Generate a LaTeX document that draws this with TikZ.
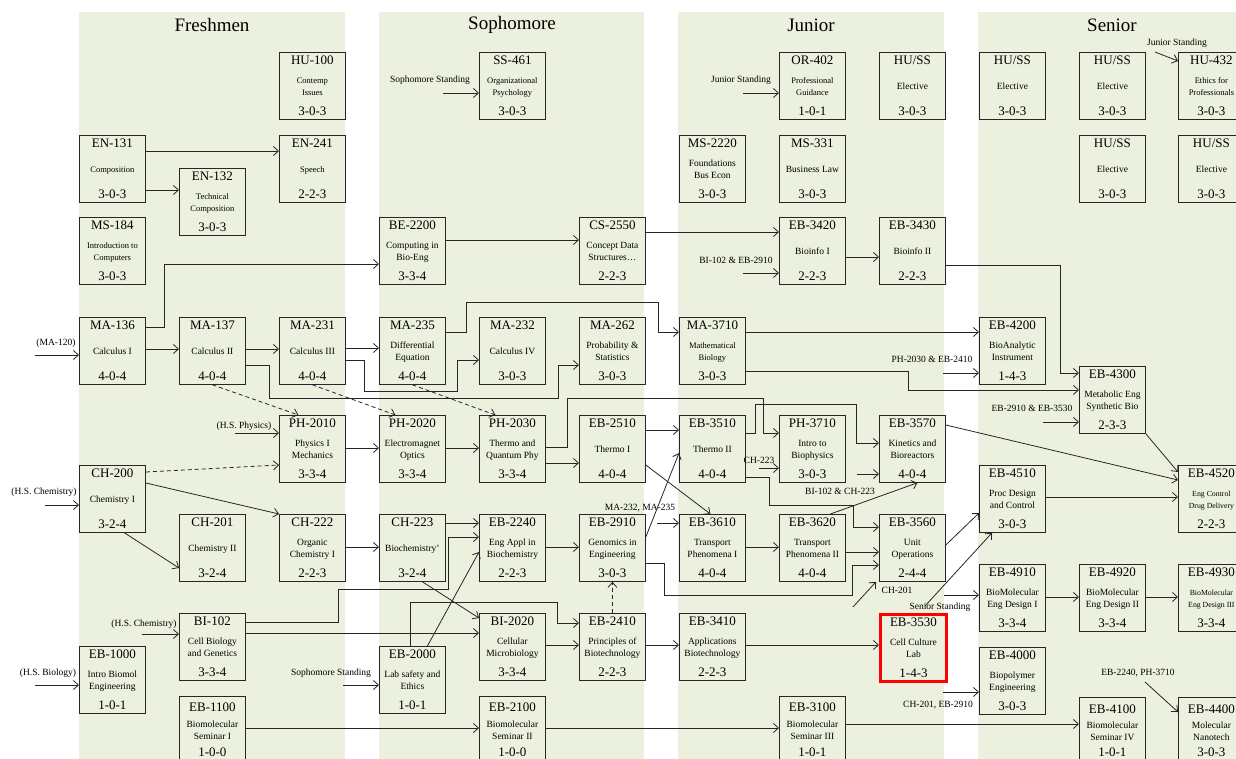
\documentclass[tikz,border=0pt]{standalone}
\usepackage{fontspec}
\setmainfont{Liberation Serif}
\usetikzlibrary{arrows.meta, positioning, calc, shadows}

\definecolor{yearbg}{HTML}{EBF1DE}
\newcommand{\sm}{\fontsize{8.5}{12}\selectfont}
\newcommand{\xsm}{\fontsize{7.8}{12.5}\selectfont}
\newcommand{\crs}[4][60pt]{\parbox[c][#1][s]{64pt}{\centering
  \fontsize{13}{14}\selectfont #2\par\vfill
  {\fontsize{9.5}{12.5}\selectfont #3\par}\vfill
  \fontsize{13}{14}\selectfont #4}}

\begin{document}
\begin{tikzpicture}[x=1pt, y=-1pt, >={Straight Barb[length=5pt,width=9pt]}, thick,
    course/.style={draw=black!85, fill=yearbg, line width=0.8pt, minimum width=66pt,
      minimum height=67pt, inner sep=0pt, anchor=north west},
    focus/.style={draw=red, line width=3pt,
      drop shadow={opacity=0.3, shadow xshift=1.5pt, shadow yshift=-1.5pt}},
    note/.style={font=\fontsize{9.5}{11}\selectfont, inner sep=0pt},
    yeartitle/.style={font=\fontsize{19}{22}\selectfont, inner sep=0pt},
    prereq/.style={->, draw=black!85},
    coreq/.style={->, draw=black!85, dash pattern=on 4pt off 3pt}]

    \useasboundingbox (0,0) rectangle (1236,759);
    \clip (0,0) rectangle (1236,759);

    % Year columns
    \fill[yearbg] (79,12) rectangle (345,770);
    \fill[yearbg] (379,12) rectangle (644,770);
    \fill[yearbg] (678,12) rectangle (944,770);
    \fill[yearbg] (978,12) rectangle (1250,770);
    \node[yeartitle] (fresh) at (212,25) {Freshmen};
    \node[yeartitle] (soph) at (512,25) {Sophomore};
    \node[yeartitle] (jun) at (811,25) {Junior};
    \node[yeartitle] (sen) at (1112,25) {Senior};

    % Freshmen courses
    \node[course] (hu100) at (279,52) {\crs{HU-100}{\sm Contemp\\Issues}{3-0-3}};
    \node[course] (en131) at (79,135) {\crs{EN-131}{\sm Composition}{3-0-3}};
    \node[course] (en132) at (179,168) {\crs{EN-132}{\sm Technical\\Composition}{3-0-3}};
    \node[course] (en241) at (279,135) {\crs{EN-241}{\sm Speech}{2-2-3}};
    \node[course] (ms184) at (79,217) {\crs{MS-184}{\sm Introduction to\\Computers}{3-0-3}};
    \node[course] (ma136) at (79,317) {\crs{MA-136}{Calculus I}{4-0-4}};
    \node[course] (ma137) at (179,317) {\crs{MA-137}{Calculus II}{4-0-4}};
    \node[course] (ma231) at (279,317) {\crs{MA-231}{Calculus III}{4-0-4}};
    \node[course] (ph2010) at (279,415) {\crs{PH-2010}{Physics I\\Mechanics}{3-3-4}};
    \node[course] (ch200) at (79,465) {\crs{CH-200}{Chemistry I}{3-2-4}};
    \node[course] (ch201) at (179,514) {\crs{CH-201}{Chemistry II}{3-2-4}};
    \node[course] (ch222) at (279,514) {\crs{CH-222}{Organic\\Chemistry I}{2-2-3}};
    \node[course] (bi102) at (179,613) {\crs{BI-102}{Cell Biology\\and Genetics}{3-3-4}};
    \node[course] (eb1000) at (79,646) {\crs{EB-1000}{Intro Biomol\\Engineering}{1-0-1}};
    \node[course] (eb1100) at (179,696) {\crs[54pt]{EB-1100}{Biomolecular\\Seminar I}{1-0-0}};

    % Sophomore courses
    \node[course] (ss461) at (479,52) {\crs{SS-461}{\sm Organizational\\Psychology}{3-0-3}};
    \node[course] (be2200) at (379,217) {\crs{BE-2200}{Computing in\\Bio-Eng}{3-3-4}};
    \node[course] (cs2550) at (579,217) {\crs{CS-2550}{Concept Data\\Structures\ldots}{2-2-3}};
    \node[course] (ma235) at (379,317) {\crs{MA-235}{Differential\\Equation}{4-0-4}};
    \node[course] (ma232) at (479,317) {\crs{MA-232}{Calculus IV}{3-0-3}};
    \node[course] (ma262) at (579,317) {\crs{MA-262}{Probability \&\\Statistics}{3-0-3}};
    \node[course] (ph2020) at (379,415) {\crs{PH-2020}{Electromagnet\\Optics}{3-3-4}};
    \node[course] (ph2030) at (479,415) {\crs{PH-2030}{Thermo and\\Quantum Phy}{3-3-4}};
    \node[course] (eb2510) at (579,415) {\crs{EB-2510}{Thermo I}{4-0-4}};
    \node[course] (ch223) at (379,514) {\crs{CH-223}{Biochemistry'}{3-2-4}};
    \node[course] (eb2240) at (479,514) {\crs{EB-2240}{Eng Appl in\\Biochemistry}{2-2-3}};
    \node[course] (eb2910) at (579,514) {\crs{EB-2910}{Genomics in\\Engineering}{3-0-3}};
    \node[course] (bi2020) at (479,613) {\crs{BI-2020}{Cellular\\Microbiology}{3-3-4}};
    \node[course] (eb2410) at (579,613) {\crs{EB-2410}{Principles of\\Biotechnology}{2-2-3}};
    \node[course] (eb2000) at (379,646) {\crs{EB-2000}{Lab safety and\\Ethics}{1-0-1}};
    \node[course] (eb2100) at (479,696) {\crs[54pt]{EB-2100}{Biomolecular\\Seminar II}{1-0-0}};

    % Junior courses
    \node[course] (or402) at (779,52) {\crs{OR-402}{\sm Professional\\Guidance}{1-0-1}};
    \node[course] (husa) at (879,52) {\crs{HU/SS}{Elective}{3-0-3}};
    \node[course] (ms2220) at (679,135) {\crs{MS-2220}{Foundations\\Bus Econ}{3-0-3}};
    \node[course] (ms331) at (779,135) {\crs{MS-331}{Business Law}{3-0-3}};
    \node[course] (eb3420) at (779,217) {\crs{EB-3420}{Bioinfo I}{2-2-3}};
    \node[course] (eb3430) at (879,217) {\crs{EB-3430}{Bioinfo II}{2-2-3}};
    \node[course] (ma3710) at (679,317) {\crs{MA-3710}{\sm Mathematical\\Biology}{3-0-3}};
    \node[course] (eb3510) at (679,415) {\crs{EB-3510}{Thermo II}{4-0-4}};
    \node[course] (ph3710) at (779,415) {\crs{PH-3710}{Intro to\\Biophysics}{3-0-3}};
    \node[course] (eb3570) at (879,415) {\crs{EB-3570}{Kinetics and\\Bioreactors}{4-0-4}};
    \node[course] (eb3610) at (679,514) {\crs{EB-3610}{Transport\\Phenomena I}{4-0-4}};
    \node[course] (eb3620) at (779,514) {\crs{EB-3620}{Transport\\Phenomena II}{4-0-4}};
    \node[course] (eb3560) at (879,514) {\crs{EB-3560}{Unit\\Operations}{2-4-4}};
    \node[course] (eb3410) at (679,613) {\crs{EB-3410}{Applications\\Biotechnology}{2-2-3}};
    \node[course, focus] (eb3530) at (879,613) {\crs{EB-3530}{Cell Culture\\Lab}{1-4-3}};
    \node[course] (eb3100) at (779,696) {\crs[54pt]{EB-3100}{Biomolecular\\Seminar III}{1-0-1}};

    % Senior courses
    \node[course] (husb) at (979,52) {\crs{HU/SS}{Elective}{3-0-3}};
    \node[course] (husc) at (1079,52) {\crs{HU/SS}{Elective}{3-0-3}};
    \node[course] (hu432) at (1178,52) {\crs{HU-432}{\sm Ethics for\\Professionals}{3-0-3}};
    \node[course] (husd) at (1079,135) {\crs{HU/SS}{Elective}{3-0-3}};
    \node[course] (huse) at (1178,135) {\crs{HU/SS}{Elective}{3-0-3}};
    \node[course] (eb4200) at (979,317) {\crs{EB-4200}{BioAnalytic\\Instrument}{1-4-3}};
    \node[course] (eb4300) at (1079,366) {\crs{EB-4300}{Metabolic Eng\\Synthetic Bio}{2-3-3}};
    \node[course] (eb4510) at (979,465) {\crs{EB-4510}{Proc Design\\and Control}{3-0-3}};
    \node[course] (eb4520) at (1178,465) {\crs{EB-4520}{\xsm Eng Control\\Drug Delivery}{2-2-3}};
    \node[course] (eb4910) at (979,564) {\crs{EB-4910}{BioMolecular\\Eng Design I}{3-3-4}};
    \node[course] (eb4920) at (1079,564) {\crs{EB-4920}{BioMolecular\\Eng Design II}{3-3-4}};
    \node[course] (eb4930) at (1178,564) {\crs{EB-4930}{\xsm BioMolecular\\Eng Design III}{3-3-4}};
    \node[course] (eb4000) at (979,647) {\crs{EB-4000}{Biopolymer\\Engineering}{3-0-3}};
    \node[course] (eb4100) at (1079,697) {\crs[52pt]{EB-4100}{Biomolecular\\Seminar IV}{1-0-1}};
    \node[course] (eb4400) at (1178,697) {\crs[52pt]{EB-4400}{Molecular\\Nanotech}{3-0-3}};

    % Outside requirements
    \node[note] (lma120) at (56,343) {(MA-120)};
    \node[note] (lhsc) at (44,492) {(H.S. Chemistry)};
    \node[note] (lhsp) at (244,426) {(H.S. Physics)};
    \node[note] (lhsc2) at (144,624) {(H.S. Chemistry)};
    \node[note] (lhsb) at (48,673) {(H.S. Biology)};
    \node[note] (lsoph) at (331,673) {Sophomore Standing};
    \node[note] (lsoph2) at (430,80) {Sophomore Standing};
    \node[note] (ljun) at (741,80) {Junior Standing};
    \node[note] (ljun2) at (1177,43) {Junior Standing};
    \node[note] (lbieb) at (736,260) {BI-102 \& EB-2910};
    \node[note] (lmama) at (640,508) {MA-232, MA-235};
    \node[note] (lch) at (759,460) {CH-223};
    \node[note] (lbich) at (840,491) {BI-102 \& CH-223};
    \node[note] (lpheb) at (932,359) {PH-2030 \& EB-2410};
    \node[note] (lebeb) at (1032,408) {EB-2910 \& EB-3530};
    \node[note] (lch201) at (897,590) {CH-201};
    \node[note] (lsen) at (940,607) {Senior Standing};
    \node[note] (lcheb) at (938,705) {CH-201, EB-2910};
    \node[note] (lebph) at (1138,673) {EB-2240, PH-3710};

    \coordinate (ma120in) at (35,355);
    \coordinate (hscin) at (45,505);
    \coordinate (hspin) at (235,433);
    \coordinate (hsc2in) at (142,634);
    \coordinate (hsbin) at (35,685);
    \coordinate (sophin) at (343,685);
    \coordinate (soph2in) at (443,93);
    \coordinate (junin) at (743,93);
    \coordinate (jun2in) at (1155,52);
    \coordinate (biebin) at (743,273);
    \coordinate (mamain) at (657,523);
    \coordinate (chin) at (759,468);
    \coordinate (bichin) at (857,474);
    \coordinate (phebin) at (943,373);
    \coordinate (ebebin) at (1043,422);
    \coordinate (ch201in) at (853,607);
    \coordinate (senin) at (925,606);
    \coordinate (sen2in) at (944,595);
    \coordinate (chebin) at (943,692);
    \coordinate (ebphin) at (1145,682);

    % Prerequisite links
    \draw[prereq] (ma120in) -- (ma136.west |- ma120in);
    \draw[prereq] (hscin) -- (ch200.west |- hscin);
    \draw[prereq] (hspin) -- (ph2010.west |- hspin);
    \draw[prereq] (hsc2in) -- (bi102.west |- hsc2in);
    \draw[prereq] (hsbin) -- (eb1000.west |- hsbin);
    \draw[prereq] (sophin) -- (eb2000.west |- sophin);
    \draw[prereq] (soph2in) -- (ss461.west |- soph2in);
    \draw[prereq] (junin) -- (or402.west |- junin);
    \draw[prereq] (jun2in) -- ([yshift=-9pt]hu432.north west);
    \draw[prereq] (biebin) -- (eb3420.west |- biebin);
    \draw[prereq] (mamain) -- (eb3610.west |- mamain);
    \draw[prereq] (chin) -- (ph3710.west |- chin);
    \draw[prereq] (bichin) -- (eb3570.west |- bichin);
    \draw[prereq] (phebin) -- (eb4200.west |- phebin);
    \draw[prereq] (ebebin) -- (eb4300.west |- ebebin);
    \draw[prereq] (ch201in) -- ([xshift=-3pt]eb3560.south west);
    \draw[prereq] (senin) -- ([xshift=13pt]eb4510.south west);
    \draw[prereq] (sen2in) -- (eb4910.west |- sen2in);
    \draw[prereq] (chebin) -- (eb4000.west |- chebin);
    \draw[prereq] (ebphin) -- ([yshift=-15pt]eb4400.north west);

    \draw[prereq] (en131.east |- 0,151) -- (en241.west |- 0,151);
    \draw[prereq] (en131.east |- 0,190) -- (en132.west |- 0,190);
    \draw[prereq] (ma136.east |- 0,349) -- (ma137.west |- 0,349);
    \draw[prereq] (ma136.east |- 0,327) -- ++(19,0) |- (be2200.west |- 0,264);
    \draw[prereq] (ma137.east |- 0,349) -- (ma231.west |- 0,349);
    \draw[prereq] (ma137.east |- 0,365) -- ++(24,0) |- (558,398) |- (ma262.west |- 0,365);
    \draw[prereq] (ma231.east |- 0,348) -- (ma235.west |- 0,348);
    \draw[prereq] (ma231.east |- 0,360) -- ++(19,0) |- (457,391) |- (ma232.west |- 0,360);
    \draw[prereq] (ma235.east |- 0,332) -- ++(21,0) |- (658,302) |- (ma3710.west |- 0,332);
    \draw[prereq] (ph2010.east |- 0,448) -- (ph2020.west |- 0,448);
    \draw[prereq] (ph2020.east |- 0,448) -- (ph2030.west |- 0,448);
    \draw[prereq] (ph2030.east |- 0,463) -- (eb2510.west |- 0,463);
    \draw[prereq] (ph2030.east |- 0,447) -- ++(22,0) |- (763,398) |- (ph3710.west |- 0,433);
    \draw[prereq] (ch200.east |- 0,483) -- (ch222.north west);
    \draw[prereq] ([xshift=12pt]ch200.south) -- (ch201.west |- 0,568);
    \draw[prereq] (ch222.east |- 0,547) -- (ch223.west |- 0,547);
    \draw[prereq] (ch223.east |- 0,523) -- (eb2240.west |- 0,523);
    \draw[prereq] ([xshift=10pt]ch223.south) -- (bi2020.west |- 0,618);
    \draw[prereq] (bi102.east |- 0,622) -- ++(93,0) |- (448,589) |- (eb2240.west |- 0,537);
    \draw[prereq] (bi102.east |- 0,633) -- (bi2020.west |- 0,633);
    \draw[prereq] (eb1100.east |- 0,728) -- (eb2100.west |- 0,728);
    \draw[prereq] ([xshift=15pt]eb2000.north) -- (eb2240.west |- 0,552);
    \draw[prereq] ([xshift=-2pt]eb2000.north) |- (557,602) |- (eb2410.west |- 0,623);
    \draw[prereq] (bi2020.east |- 0,645) -- (eb2410.west |- 0,645);
    \draw[prereq] (eb2240.east |- 0,547) -- (eb2910.west |- 0,547);
    \draw[prereq] (eb2100.east |- 0,728) -- (eb3100.west |- 0,728);
    \draw[prereq] (eb2410.east |- 0,645) -- (eb3410.west |- 0,645);
    \draw[prereq] (eb3410.east |- 0,645) -- (eb3530.west |- 0,645);
    \draw[prereq] (eb3100.east |- 0,724) -- (eb4100.west |- 0,724);
    \draw[prereq] (eb2910.east |- 0,563) -- ++(19,0) |- (852,595) |- (eb3560.west |- 0,565);
    \draw[prereq] (eb2910.east |- 0,537) -- (eb3510.west |- 0,453);
    \draw[prereq] (eb2510.east |- 0,430) -- (eb3510.west |- 0,430);
    \draw[prereq] (eb2510.east |- 0,465) -- ([xshift=-2pt]eb3610.north);
    \draw[prereq] (eb3510.east |- 0,433) -- ++(10,0) |- (856,404) |- (eb3570.west |- 0,443);
    \draw[prereq] (eb3510.east |- 0,477) -- ++(24,0) |- (853,505) |- (eb3560.west |- 0,527);
    \draw[prereq] ([xshift=18pt]eb3620.north) -- ([xshift=5pt]eb3570.south);
    \draw[prereq] (eb3570.east |- 0,425) -- (eb4520.west |- 0,480);
    \draw[prereq] (ma3710.east |- 0,332) -- (eb4200.west |- 0,332);
    \draw[prereq] (ma3710.east |- 0,371) -- ++(163,0) |- (eb4300.west |- 0,390);
    \draw[prereq] (eb3430.east |- 0,265) -| (1060,373) -- (eb4300.west |- 0,373);
    \draw[prereq] (eb4300.south east) -- (eb4520.west |- 0,472);
    \draw[prereq] (eb4510.east |- 0,497) -- (eb4520.west |- 0,497);
    \draw[prereq] (be2200.east |- 0,240) -- (cs2550.west |- 0,240);
    \draw[prereq] (cs2550.east |- 0,232) -- (eb3420.west |- 0,232);
    \draw[prereq] (eb3420.east |- 0,257) -- (eb3430.west |- 0,257);
    \draw[prereq] (eb3610.east |- 0,547) -- (eb3620.west |- 0,547);
    \draw[prereq] (eb3620.east |- 0,552) -- (eb3560.west |- 0,552);
    \draw[prereq] (eb3560.east |- 0,545) -- (eb4510.west |- 0,513);
    \draw[prereq] (eb4910.east |- 0,597) -- (eb4920.west |- 0,597);
    \draw[prereq] (eb4920.east |- 0,597) -- (eb4930.west |- 0,597);

    % Corequisite links
    \draw[coreq] (ma137.south) -- ([xshift=-14pt]ph2010.north);
    \draw[coreq] (ma231.south) -- ([xshift=-17pt]ph2020.north);
    \draw[coreq] (ma235.south) -- ([xshift=-17pt]ph2030.north);
    \draw[coreq] (ch200.east |- 0,472) -- (ph2010.west |- 0,465);
    \draw[coreq] (eb2410.north) -- (eb2910.south);
\end{tikzpicture}
\end{document}
